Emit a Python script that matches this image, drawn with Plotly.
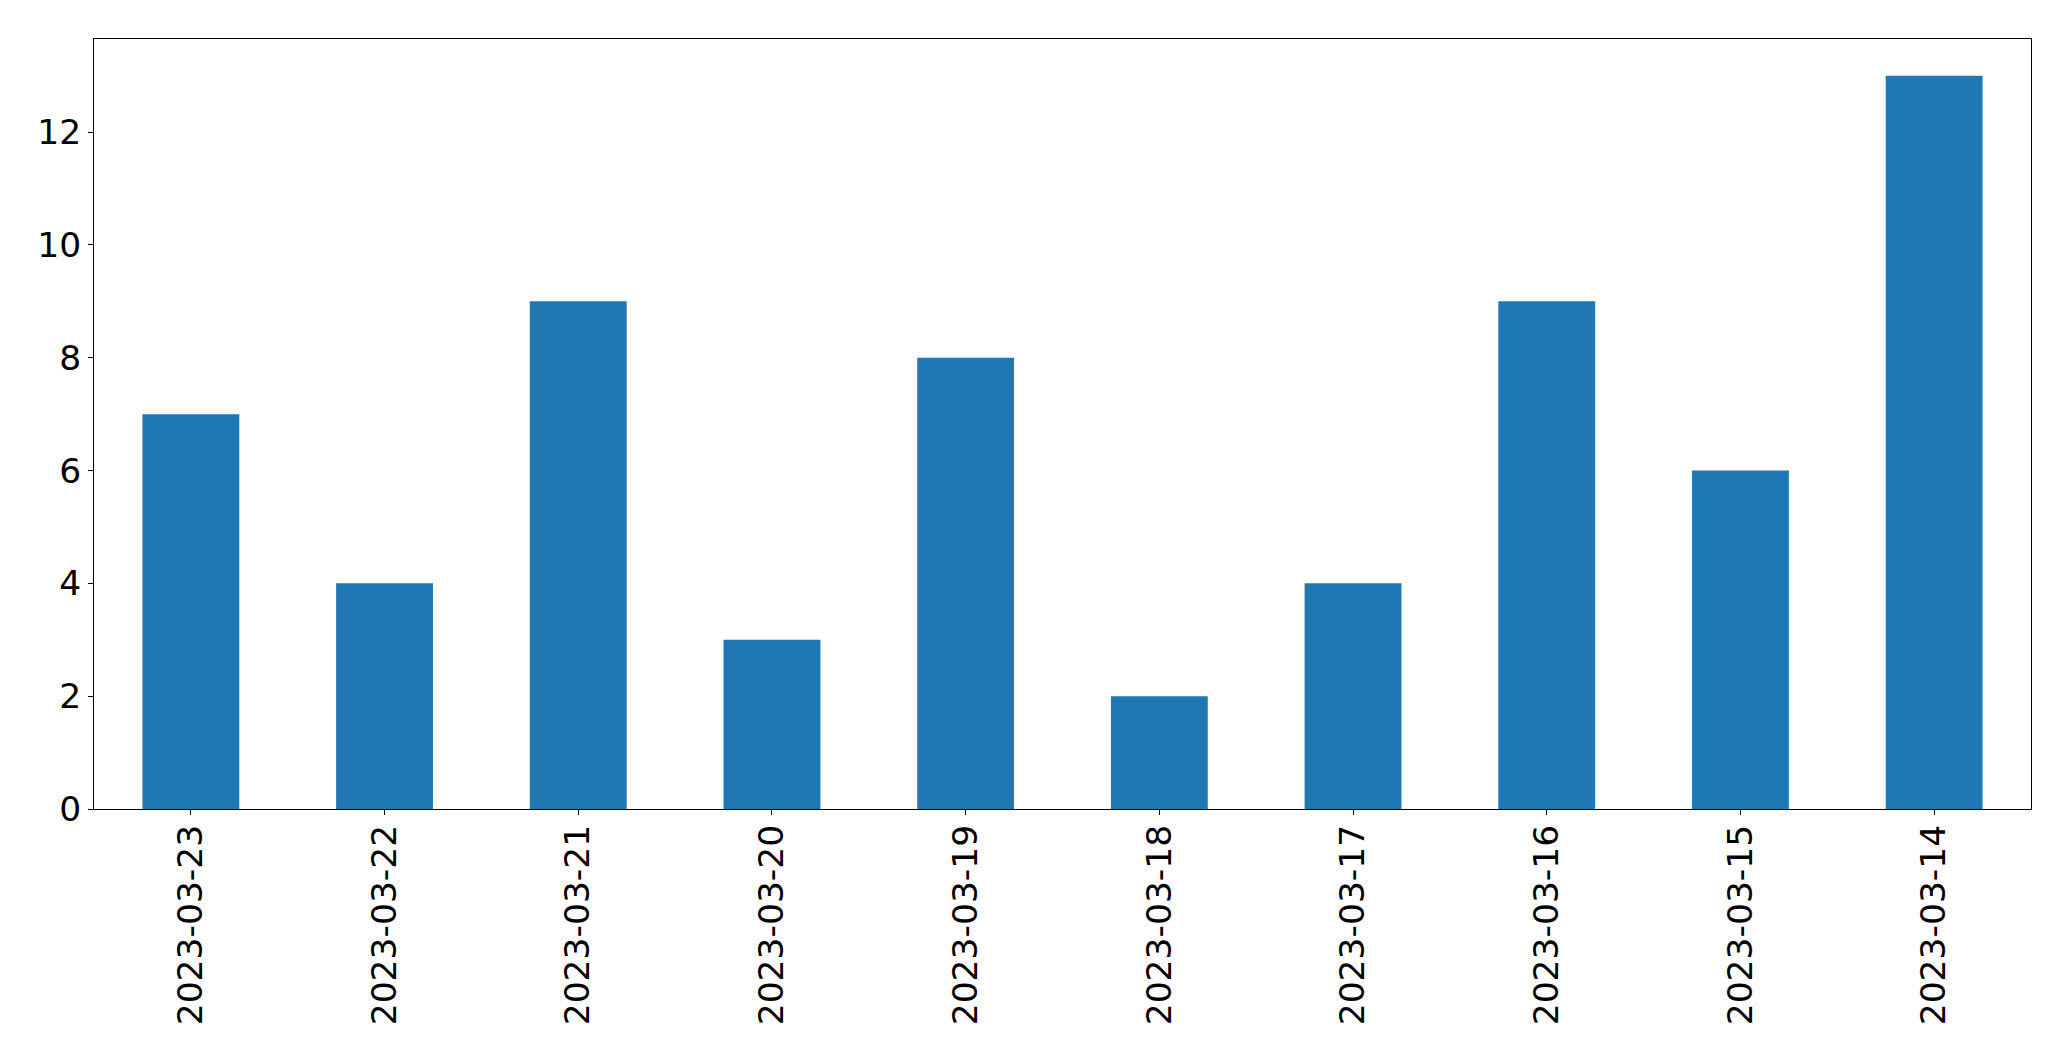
import plotly.graph_objects as go

dates = ["2023-03-23", "2023-03-22", "2023-03-21", "2023-03-20", "2023-03-19",
         "2023-03-18", "2023-03-17", "2023-03-16", "2023-03-15", "2023-03-14"]
counts = [7, 4, 9, 3, 8, 2, 4, 9, 6, 13]
y_ticks = [0, 2, 4, 6, 8, 10, 12]

fig = go.Figure(go.Bar(x=dates, y=counts, width=0.5, marker=dict(color="#1f77b4", line=dict(width=0))))

axis_common = dict(showline=True, linecolor="black", linewidth=1, mirror=True,
                   ticks="outside", ticklen=5, tickwidth=1, tickcolor="black",
                   showgrid=False, zeroline=False,
                   tickfont=dict(family="DejaVu Sans", size=34.5, color="black"))

fig.update_layout(
    width=2063, height=1053,
    margin=dict(l=86, r=40, t=31, b=252),
    plot_bgcolor="white", paper_bgcolor="white",
    showlegend=False,
    xaxis=dict(type="category", range=[-0.5, 9.5], tickangle=-90, ticklabelstandoff=-4, **axis_common),
    yaxis=dict(range=[0, 13.65], tickvals=y_ticks, ticktext=[str(v) for v in y_ticks], **axis_common),
)

fig.write_html("out.html")
